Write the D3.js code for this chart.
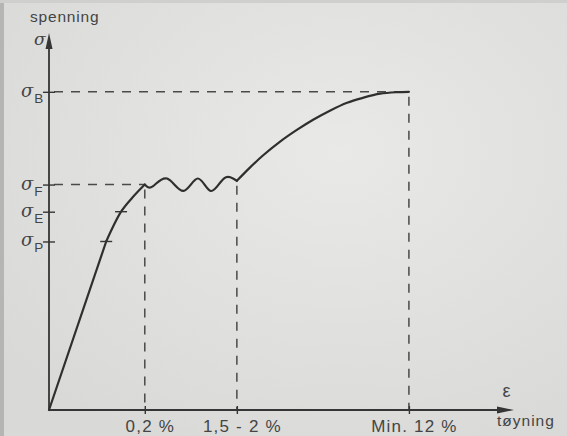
<!DOCTYPE html>
<html>
<head>
<meta charset="utf-8">
<script src="https://cdn.jsdelivr.net/npm/d3@7"></script>
<style>
  html, body { margin: 0; padding: 0; background: #e2e2e0; }
  svg { display: block; }
  text { font-family: "Liberation Sans", Arial, sans-serif; fill: #444444; }
</style>
</head>
<body>
<svg id="chart" width="567" height="436"></svg>
<script>
// ---- data (schematic units: strain 0..100, stress 0..100) ----
const xTickLabels = ["0,2 %", "1,5 - 2 %", "Min. 12 %"];
const xTickValues = [20.6, 40.4, 77.4];
const ySubscripts = ["B", "F", "E", "P"];
const yTickValues = [84.4, 59.8, 52.6, 44.7];
// curve segments [strain, stress]
const elastic = [[0, 0], [12.3, 44.7]];
const transition = [[12.3, 44.7], [15.5, 52.6], [17.9, 56.3], [20.6, 59.8]];
const yieldWave = [[20.6, 59.8], [22.3, 59.3], [25.4, 61.4], [28.9, 58.1], [32.0, 61.4],
                   [34.8, 58.1], [37.6, 61.4], [40.4, 60.8]];
const hardening = [[40.4, 60.8], [43.2, 64.3], [46.0, 67.5], [49.7, 71.2], [53.3, 74.3],
                   [56.8, 77.0], [60.4, 79.4], [64.1, 81.5], [67.5, 82.8], [71.2, 83.9],
                   [74.8, 84.3], [77.4, 84.4]];
const curveTicks = [44.7, 52.6];           // small marks on the curve at σP, σE
const curveTickX = [12.3, 15.5];

const svg = d3.select("#chart");
const W = 567, H = 436;
const ink = "#353535";

// background like the photographed page
const defs = svg.append("defs");
const rg = defs.append("radialGradient").attr("id", "bg").attr("cx", "60%").attr("cy", "35%").attr("r", "75%");
rg.append("stop").attr("offset", "0%").attr("stop-color", "#e9e9e7");
rg.append("stop").attr("offset", "100%").attr("stop-color", "#d9d9d7");
svg.append("rect").attr("width", W).attr("height", H).attr("fill", "url(#bg)");
svg.append("rect").attr("width", 4).attr("height", H).attr("fill", "#b5b5b3");
svg.append("rect").attr("width", W).attr("height", 3).attr("fill", "#cfcfcd");

const x = d3.scaleLinear().domain([0, 100]).range([49, 514]);
const y = d3.scaleLinear().domain([0, 100]).range([410, 33]);

const g = svg.append("g");

// dashed guide lines
const dash = "9,8";
const guides = [
  [[0, yTickValues[0]], [xTickValues[2], yTickValues[0]]],
  [[xTickValues[2], yTickValues[0]], [xTickValues[2], 0]],
  [[0, yTickValues[1]], [xTickValues[0], yTickValues[1]]],
  [[xTickValues[0], yTickValues[1]], [xTickValues[0], 0]],
  [[xTickValues[1], yieldWave[yieldWave.length - 1][1]], [xTickValues[1], 0]]
];
const lineGen = d3.line().x(d => x(d[0])).y(d => y(d[1]));
g.selectAll("path.guide").data(guides).join("path")
  .attr("class", "guide")
  .attr("d", lineGen)
  .attr("fill", "none")
  .attr("stroke", "#4a4a4a")
  .attr("stroke-width", 1.5)
  .attr("stroke-dasharray", dash)
  .attr("stroke-dashoffset", -5);

// axes with D3 axis generators (ticks crossing the axis lines)
const xAxis = d3.axisBottom(x).tickValues(xTickValues)
  .tickFormat((d, i) => xTickLabels[i]).tickSizeInner(4).tickSizeOuter(0).tickPadding(8);
const xa = g.append("g").attr("transform", `translate(0,${y(0)})`).call(xAxis);
xa.select(".domain").remove();
xa.selectAll(".tick line").attr("y1", -4).attr("y2", 4).attr("stroke", ink).attr("stroke-width", 1.4);
xa.selectAll(".tick text")
  .attr("font-size", 17).attr("letter-spacing", 1.2).attr("fill", "#444444")
  .attr("dx", 5).attr("y", 22).attr("dy", 0)
  .style("font-family", "'Liberation Sans', Arial, sans-serif");

const yAxis = d3.axisLeft(y).tickValues(yTickValues).tickFormat("").tickSizeInner(6).tickSizeOuter(0);
const ya = g.append("g").attr("transform", `translate(${x(0)},0)`).call(yAxis);
ya.select(".domain").remove();
ya.selectAll(".tick line").attr("x1", -6).attr("x2", 6).attr("stroke", ink).attr("stroke-width", 1.4);

// axis lines + arrowheads
g.append("line").attr("x1", x(0)).attr("y1", y(0)).attr("x2", x(97)).attr("y2", y(0))
  .attr("stroke", ink).attr("stroke-width", 1.8);
g.append("line").attr("x1", x(0)).attr("y1", y(0)).attr("x2", x(0)).attr("y2", y(96))
  .attr("stroke", ink).attr("stroke-width", 1.8);
g.append("path")
  .attr("d", `M${x(100)},${y(0)} L${x(100) - 17},${y(0) - 3.5} L${x(100) - 17},${y(0) + 3.5} Z`)
  .attr("fill", ink);
g.append("path")
  .attr("d", `M${x(0)},${y(100)} L${x(0) - 3.5},${y(100) + 16} L${x(0) + 3.5},${y(100) + 16} Z`)
  .attr("fill", ink);

// stress-strain curve
const curveStyle = sel => sel.attr("fill", "none").attr("stroke", "#2f2f2f")
  .attr("stroke-width", 2.2).attr("stroke-linejoin", "round").attr("stroke-linecap", "round");
g.append("path").attr("d", d3.line().x(d => x(d[0])).y(d => y(d[1]))(elastic)).call(curveStyle);
g.append("path").attr("d", d3.line().x(d => x(d[0])).y(d => y(d[1])).curve(d3.curveCatmullRom)(transition)).call(curveStyle);
g.append("path").attr("d", d3.line().x(d => x(d[0])).y(d => y(d[1])).curve(d3.curveNatural)(yieldWave)).call(curveStyle);
g.append("path").attr("d", d3.line().x(d => x(d[0])).y(d => y(d[1])).curve(d3.curveMonotoneX)(hardening)).call(curveStyle);

// small horizontal marks on the curve
g.selectAll("line.ctick").data(curveTicks).join("line")
  .attr("class", "ctick")
  .attr("x1", (d, i) => x(curveTickX[i]) - 6).attr("x2", (d, i) => x(curveTickX[i]) + 6)
  .attr("y1", d => y(d)).attr("y2", d => y(d))
  .attr("stroke", ink).attr("stroke-width", 1.4);

// σ labels on the y axis
const yl = g.selectAll("text.ylab").data(yTickValues).join("text")
  .attr("class", "ylab")
  .attr("x", 21).attr("y", d => y(d) + 5);
yl.append("tspan").attr("font-size", 18).attr("font-style", "italic")
  .style("font-family", "'DejaVu Serif', serif").text("σ");
yl.append("tspan").attr("font-size", 13.5).attr("dy", 6).attr("dx", 1).text((d, i) => ySubscripts[i]);

// axis titles
g.append("text").attr("x", 30).attr("y", 22).attr("font-size", 15.5).attr("letter-spacing", 0.8).text("spenning");
g.append("text").attr("x", 34).attr("y", 45).attr("font-size", 17).attr("font-style", "italic")
  .style("font-family", "'DejaVu Serif', serif").text("σ");
g.append("text").attr("x", x(98.4)).attr("y", y(0) - 13).attr("font-size", 18)
  .attr("text-anchor", "middle").text("ε");
g.append("text").attr("x", 497).attr("y", 426).attr("font-size", 15.5).attr("letter-spacing", 1).text("tøyning");
</script>
</body>
</html>
